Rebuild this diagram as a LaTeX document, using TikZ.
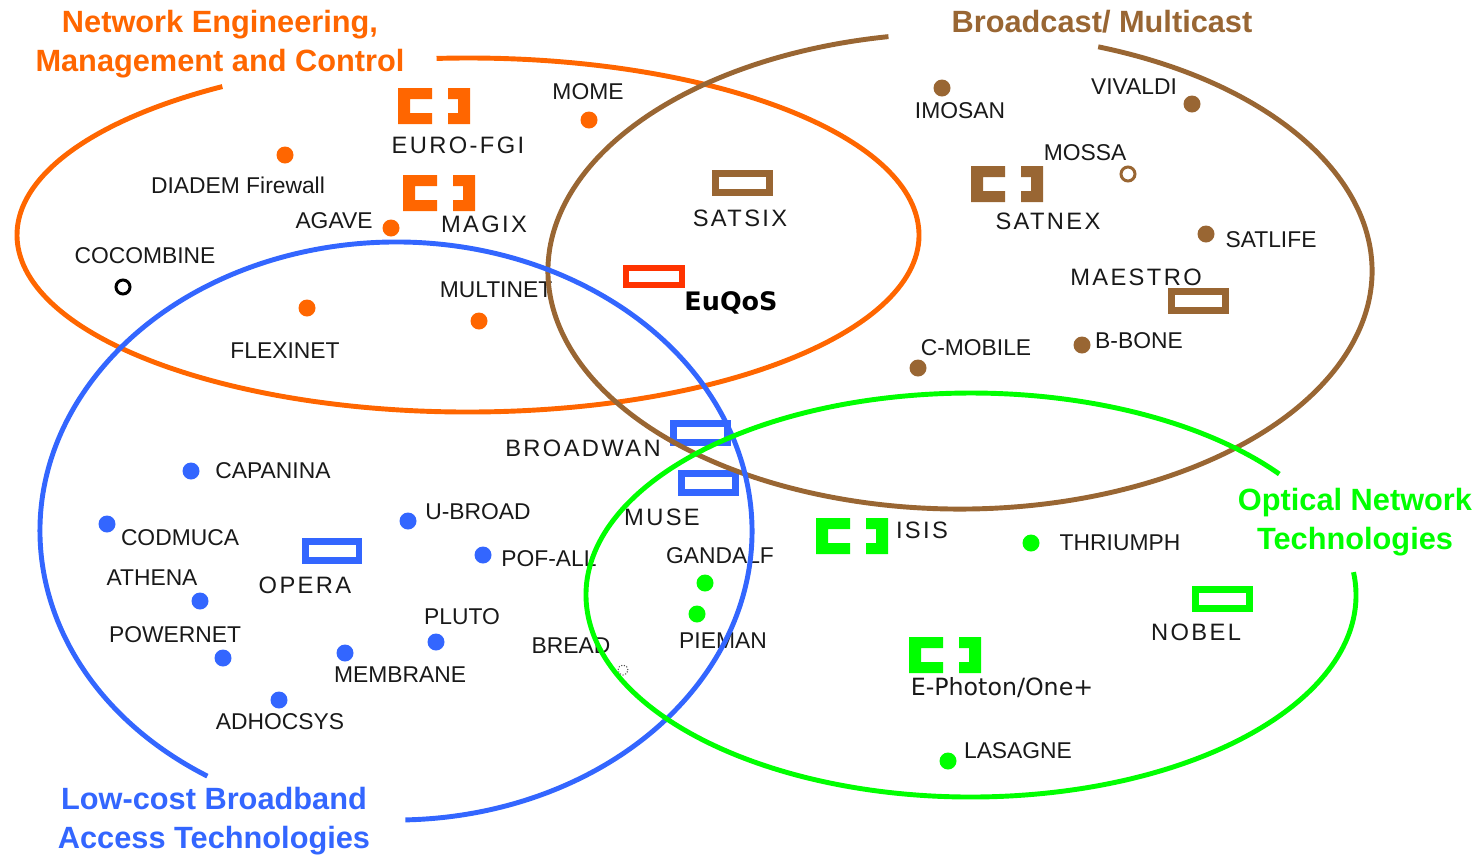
\documentclass[tikz,border=0pt]{standalone}
\usepackage{fontspec}
\setmainfont{Liberation Sans}
\newfontfamily\spacedfont[LetterSpace=10]{Liberation Sans}
\newfontfamily\verafont{DejaVu Sans}
\usetikzlibrary{positioning}

\definecolor{nemccol}{RGB}{255,102,0}
\definecolor{bcastcol}{RGB}{153,102,51}
\definecolor{accesscol}{RGB}{51,102,255}
\definecolor{opticcol}{RGB}{0,255,0}
\definecolor{qoscol}{RGB}{255,51,0}

\tikzset{
    brk/.pic={
        \fill (-36,-18) rectangle (-2,-7) (-36,-18) rectangle (-24,18) (-36,7) rectangle (-2,18)
              (14,-18) rectangle (36,-7) (24,-18) rectangle (36,18) (14,7) rectangle (36,18);
    }
}

\begin{document}
\begin{tikzpicture}[
        x=0.02cm, y=-0.02cm,
        area/.style={draw=#1, line width=2.8pt},
        title/.style={
            align=center,
            text=#1,
            font=\fontsize{17.5}{22}\selectfont\bfseries
        },
        lbl/.style={inner sep=0, text=black!90, font=\fontsize{13}{15}\selectfont},
        wlbl/.style={inner sep=0, text=black!90, font=\spacedfont\fontsize{13.5}{16}\selectfont},
        proj/.style={circle, fill=#1, inner sep=0, minimum size=0.34cm},
        ring/.style={circle, draw=#1, line width=1.7pt, inner sep=0, minimum size=0.28cm},
        cluster/.style={
            rectangle,
            draw=#1,
            line width=0.14cm,
            inner sep=0,
            minimum width=1.08cm,
            minimum height=0.38cm
        }
    ]

        \useasboundingbox (0,0) rectangle (1483,867);

        % titles
        \node[title=nemccol] (nemc-t) at (220,44) {Network Engineering,\\Management and Control};
        \node[title=bcastcol] (bcast-t) at (1102,22) {Broadcast/ Multicast};
        \node[title=opticcol] (optic-t) at (1355,522) {Optical Network\\Technologies};
        \node[title=accesscol] (access-t) at (214,821) {Low-cost Broadband\\Access Technologies};

        % network engineering, management and control
        \pic[nemccol] at (434,106) {brk};
        \node[wlbl] (eurofgi) at (458,145) {EURO-FGI};
        \pic[nemccol] at (439,193) {brk};
        \node[wlbl] (magix) at (484,224) {MAGIX};
        \node[proj=nemccol] (mome-p) at (589,120) {};
        \node[lbl] (mome) at (588,92) {MOME};
        \node[proj=nemccol] (diadem-p) at (285,155) {};
        \node[lbl] (diadem) at (238,185) {DIADEM Firewall};
        \node[proj=nemccol] (agave-p) at (391,228) {};
        \node[lbl] (agave) at (334,221) {AGAVE};
        \node[ring=black] (cocombine-p) at (123,287) {};
        \node[lbl] (cocombine) at (145,256) {COCOMBINE};
        \node[proj=nemccol] (flexinet-p) at (307,308) {};
        \node[lbl] (flexinet) at (285,351) {FLEXINET};
        \node[proj=nemccol] (multinet-p) at (479,321) {};
        \node[lbl] (multinet) at (496,290) {MULTINET};
        \node[cluster=qoscol, line width=0.12cm, minimum width=1.12cm, minimum height=0.34cm] (euqos-p) at (654,276) {};
        \node[lbl, text=black, font=\verafont\bfseries\fontsize{14.5}{17}\selectfont] (euqos) at (731,303) {EuQoS};

        % broadcast / multicast
        \node[proj=bcastcol] (imosan-p) at (942,88) {};
        \node[lbl] (imosan) at (960,111) {IMOSAN};
        \node[proj=bcastcol] (vivaldi-p) at (1192,104) {};
        \node[lbl] (vivaldi) at (1134,87) {VIVALDI};
        \node[ring=bcastcol] (mossa-p) at (1128,174) {};
        \node[lbl] (mossa) at (1085,153) {MOSSA};
        \pic[bcastcol] at (1007,184) {brk};
        \node[wlbl] (satnex) at (1048,221) {SATNEX};
        \node[cluster=bcastcol] (satsix-p) at (742,183) {};
        \node[wlbl] (satsix) at (740,218) {SATSIX};
        \node[proj=bcastcol] (satlife-p) at (1206,234) {};
        \node[lbl] (satlife) at (1271,240) {SATLIFE};
        \node[cluster=bcastcol] (maestro-p) at (1198,301) {};
        \node[wlbl] (maestro) at (1136,277) {MAESTRO};
        \node[proj=bcastcol] (bbone-p) at (1082,345) {};
        \node[lbl] (bbone) at (1139,341) {B-BONE};
        \node[proj=bcastcol] (cmobile-p) at (918,368) {};
        \node[lbl] (cmobile) at (976,348) {C-MOBILE};

        % low-cost broadband access
        \node[proj=accesscol] (capanina-p) at (191,471) {};
        \node[lbl] (capanina) at (273,471) {CAPANINA};
        \node[proj=accesscol] (codmuca-p) at (107,524) {};
        \node[lbl] (codmuca) at (180,538) {CODMUCA};
        \node[proj=accesscol] (athena-p) at (200,601) {};
        \node[lbl] (athena) at (152,578) {ATHENA};
        \node[cluster=accesscol] (opera-p) at (332,551) {};
        \node[wlbl] (opera) at (305,585) {OPERA};
        \node[proj=accesscol] (powernet-p) at (223,658) {};
        \node[lbl] (powernet) at (175,635) {POWERNET};
        \node[proj=accesscol] (ubroad-p) at (408,521) {};
        \node[lbl] (ubroad) at (478,512) {U-BROAD};
        \node[proj=accesscol] (pofall-p) at (483,555) {};
        \node[lbl] (pofall) at (549,559) {POF-ALL};
        \node[proj=accesscol] (pluto-p) at (436,642) {};
        \node[lbl] (pluto) at (462,617) {PLUTO};
        \node[proj=accesscol] (membrane-p) at (345,653) {};
        \node[lbl] (membrane) at (400,675) {MEMBRANE};
        \node[proj=accesscol] (adhocsys-p) at (279,700) {};
        \node[lbl] (adhocsys) at (280,722) {ADHOCSYS};
        \node[cluster=accesscol] (broadwan-p) at (700,433) {};
        \node[wlbl] (broadwan) at (583,448) {BROADWAN};
        \node[cluster=accesscol] (muse-p) at (708,483) {};
        \node[wlbl] (muse) at (662,517) {MUSE};
        \node[circle, draw=black!70, densely dotted, line width=0.6pt, inner sep=0, minimum size=0.2cm] (bread-p) at (623,670) {};
        \node[lbl] (bread) at (571,646) {BREAD};

        % optical networks
        \pic[opticcol] at (852,536) {brk};
        \node[wlbl] (isis) at (922,530) {ISIS};
        \node[proj=opticcol] (thriumph-p) at (1031,543) {};
        \node[lbl] (thriumph) at (1120,543) {THRIUMPH};
        \node[proj=opticcol] (gandalf-p) at (705,583) {};
        \node[lbl] (gandalf) at (720,556) {GANDALF};
        \node[proj=opticcol] (pieman-p) at (697,614) {};
        \node[lbl] (pieman) at (723,641) {PIEMAN};
        \node[cluster=opticcol] (nobel-p) at (1222,599) {};
        \node[wlbl] (nobel) at (1196,632) {NOBEL};
        \pic[opticcol] at (945,655) {brk};
        \node[lbl, font=\verafont\fontsize{13.5}{16}\selectfont] (ephoton) at (1002,688) {E-Photon/One+};
        \node[proj=opticcol] (lasagne-p) at (948,761) {};
        \node[lbl] (lasagne) at (1018,751) {LASAGNE};

        % the four areas, open where the titles sit
        \coordinate (nemc) at (468,235);
        \coordinate (bcast) at (960,271);
        \coordinate (access) at (396,531);
        \coordinate (optic) at (971,595);
        \draw[area=nemccol] (nemc) ++(266:451 and 177)
            arc[start angle=266, end angle=597, x radius=451, y radius=177];
        \draw[area=bcastcol] (bcast) ++(289.6:412 and 238)
            arc[start angle=289.6, end angle=620, x radius=412, y radius=238];
        \draw[area=accesscol] (access) ++(122:356 and 289)
            arc[start angle=122, end angle=448.5, x radius=356, y radius=289];
        \draw[area=opticcol] (optic) ++(353.5:385 and 202)
            arc[start angle=353.5, end angle=683.2, x radius=385, y radius=202];

    \end{tikzpicture}
\end{document}
